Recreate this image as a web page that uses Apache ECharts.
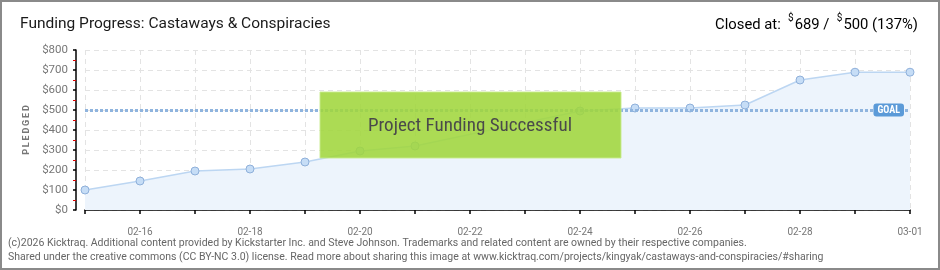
<!DOCTYPE html>
<html><head><meta charset="utf-8">
<script src="https://cdn.jsdelivr.net/npm/echarts@6/dist/echarts.min.js"></script>
<style>
html,body{margin:0;padding:0;background:#fff}
#wrap{position:relative;width:940px;height:270px}
#c{width:940px;height:270px}
#frame{position:absolute;left:0;top:0;width:940px;height:270px;box-sizing:border-box;border:2px solid #8a8a8a;pointer-events:none}
</style>
</head><body><div id="wrap"><div id="c"></div><div id="frame"></div></div>
<script>
// ---- data ----
const dates = ['02-15','02-16','02-17','02-18','02-19','02-20','02-21','02-22','02-23','02-24','02-25','02-26','02-27','02-28','02-29','03-01'];
const pledged = [100,145,195,205,240,295,320,null,null,495,510,510,525,650,689,689];
const goal = 500;
const yMin = 0, yMax = 800, yStep = 100;
const titleText = 'Funding Progress: Castaways & Conspiracies';
const bannerText = 'Project Funding Successful';
const footer1 = '(c)2026 Kicktraq. Additional content provided by Kickstarter Inc. and Steve Johnson. Trademarks and related content are owned by their respective companies.';
const footer2 = 'Shared under the creative commons (CC BY-NC 3.0) license. Read more about sharing this image at www.kicktraq.com/projects/kingyak/castaways-and-conspiracies/#sharing';

const closed = pledged.filter(v => v != null).slice(-1)[0];
const pct = Math.floor(closed / goal * 100);
const COND = "'Roboto Condensed','DejaVu Sans Condensed','Liberation Sans Narrow',Roboto,sans-serif";
const REG = "Roboto,'Liberation Sans',sans-serif";

const chart = echarts.init(document.getElementById('c'), null, {renderer: 'canvas'});
chart.setOption({
  animation: false,
  backgroundColor: '#fff',
  textStyle: {fontFamily: REG},
  grid: {left: 85, right: 30, top: 50, bottom: 60, containLabel: false},
  xAxis: {
    type: 'category', data: dates, boundaryGap: false, offset: 11,
    axisLine: {lineStyle: {color: '#000', width: 1.5}},
    axisTick: {interval: 0, length: 4, lineStyle: {color: '#000', width: 1.5}},
    axisLabel: {interval: (i) => i % 2 === 1, color: '#777', fontSize: 10, margin: 6, fontFamily: REG},
    splitLine: {show: true, interval: 0, lineStyle: {color: '#e3e3e3', type: [5, 4]}}
  },
  yAxis: {
    type: 'value', min: yMin, max: yMax, interval: yStep, offset: 9,
    name: 'P\u2009L\u2009E\u2009D\u2009G\u2009E\u2009D', nameLocation: 'middle', nameRotate: 90, nameGap: 42,
    nameTextStyle: {color: '#777', fontSize: 9, fontWeight: 'bold', fontFamily: REG},
    axisLine: {show: true, lineStyle: {color: '#000', width: 1.5}},
    axisTick: {show: true, length: 3, lineStyle: {color: '#000', width: 1.5}},
    minorTick: {show: true, splitNumber: 2, length: 3, lineStyle: {color: '#e00000', width: 1}},
    axisLabel: {formatter: v => '$' + v, color: '#777', fontSize: 11.5, margin: 8, fontFamily: REG},
    splitLine: {show: true, lineStyle: {color: '#e3e3e3', type: [5, 4]}}
  },
  series: [{
    type: 'line', data: pledged, connectNulls: true,
    symbol: 'circle', symbolSize: 8, showSymbol: true,
    lineStyle: {color: '#bcd6f2', width: 1.5},
    itemStyle: {color: '#c6ddf6', borderColor: '#8fb0da', borderWidth: 1},
    areaStyle: {color: '#edf4fc', opacity: 1},
    markLine: {
      silent: true, symbol: 'none', animation: false,
      data: [{yAxis: goal}],
      lineStyle: {color: '#8fb4de', type: [3, 2], width: 3},
      label: {show: true, position: 'insideEnd', formatter: 'GOAL', color: '#fff',
        backgroundColor: '#5b9ad8', borderRadius: 3, padding: [2, 4, 1, 4],
        fontSize: 10, fontWeight: 'bold', distance: 6, fontFamily: COND}
    }
  }],
  graphic: [
    {type: 'text', left: 20, top: 16, z: 10,
      style: {text: titleText, font: '15.5px ' + REG, fill: '#1a1a1a'}},
    {type: 'text', right: 22, top: 13, z: 10,
      style: {text: '{n|Closed at:  }{s|$}{n|' + closed + ' /  }{s|$}{n|' + goal + ' (' + pct + '%)}',
        rich: {n: {fontSize: 14.8, fontFamily: REG, color: '#1a1a1a', lineHeight: 20, verticalAlign: 'bottom'},
               s: {fontSize: 10, fontFamily: REG, color: '#1a1a1a', lineHeight: 20, verticalAlign: 'top', padding: [0, 1, 8, 0]}}}},
    {type: 'rect', z: 20, shape: {x: 320, y: 92, width: 301, height: 66},
      style: {fill: 'rgba(160,214,60,0.88)', stroke: 'rgba(200,235,140,0.9)', lineWidth: 1}},
    {type: 'text', z: 21, x: 470, y: 126,
      style: {text: bannerText, font: '19px ' + COND, fill: '#4a4a4a', align: 'center', verticalAlign: 'middle',
        shadowColor: 'rgba(255,255,255,0.9)', shadowOffsetX: -1, shadowOffsetY: 1, shadowBlur: 0}},
    {type: 'text', left: 8, top: 238, z: 10,
      style: {text: footer1, font: '10.5px ' + REG, fill: '#666'}},
    {type: 'text', left: 8, top: 252, z: 10,
      style: {text: footer2, font: '10.5px ' + REG, fill: '#666'}}
  ]
});
</script>
</body></html>
